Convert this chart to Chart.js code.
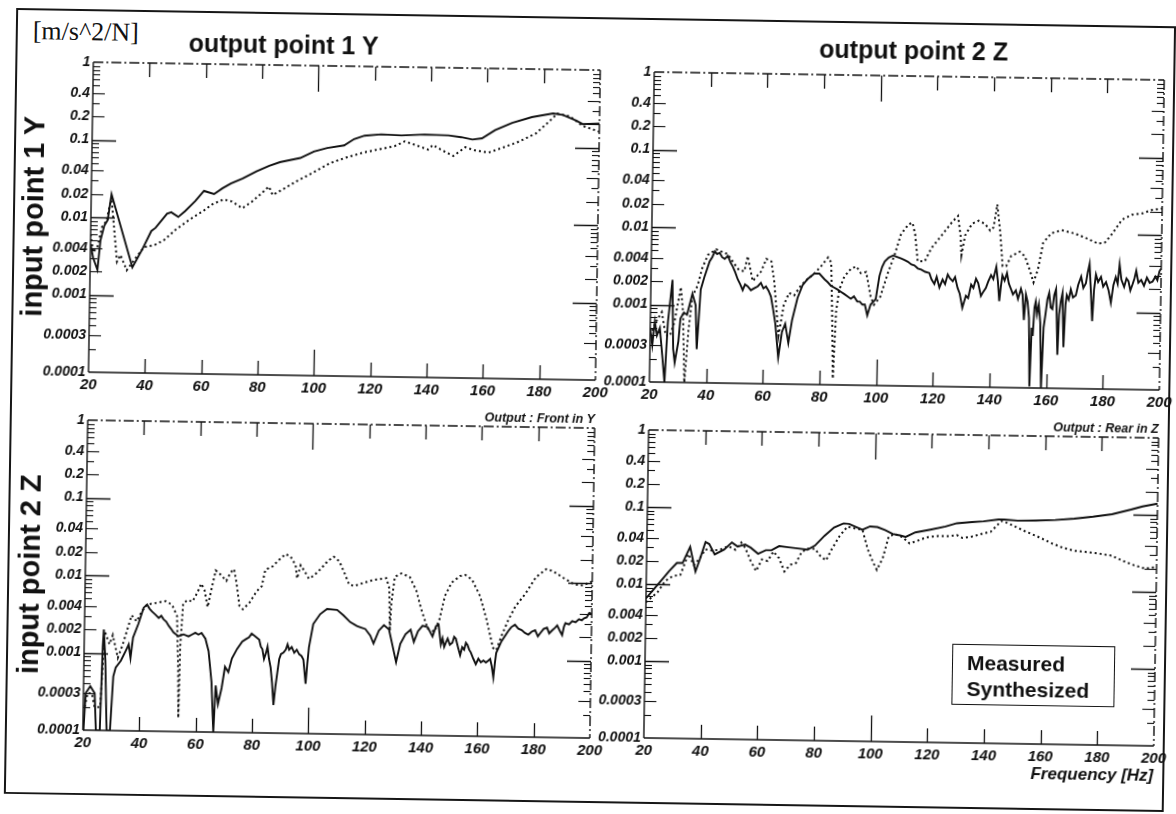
<!DOCTYPE html>
<html>
<head>
<meta charset="utf-8">
<title>Transfer functions: measured vs synthesized</title>
<script src="https://cdn.jsdelivr.net/npm/chart.js@4.4.1/dist/chart.umd.min.js"></script>
<style>
  html, body { margin: 0; padding: 0; background: #fff; }
  #sheet { position: relative; width: 1176px; height: 814px; overflow: hidden; background: #fff; }
  #page { position: absolute; left: 0; top: 0; width: 1176px; height: 814px;
          transform: rotate(0.9deg); transform-origin: 588px 407px; }
  .frame { position: absolute; left: 10px; top: 17px; width: 1160px; height: 786px;
           box-sizing: border-box; border: 2.5px solid #161616; }
  canvas { position: absolute; }
  .txt { position: absolute; white-space: nowrap; color: #111; line-height: 1; }
  .unit { font: 26px "Liberation Serif", "DejaVu Serif", serif; transform: translate(-50%, -50%); }
  .title { font: bold 25px "Liberation Sans", Arial, sans-serif; transform: translate(-50%, -50%); }
  .rowlab { font: bold 29px "Liberation Sans", Arial, sans-serif; transform: translate(-50%, -50%) rotate(-90deg); }
  .outlab { font: italic bold 12.5px "Liberation Sans", Arial, sans-serif; transform: translate(-100%, -100%); }
  .xlab { font: italic bold 17px "Liberation Sans", Arial, sans-serif; transform: translate(-100%, -50%); }
  .legend { position: absolute; box-sizing: border-box; border: 1.6px solid #111; background: #fff;
            font: bold 21px "Liberation Sans", Arial, sans-serif; color: #111;
            padding: 5px 0 0 14px; line-height: 26px; }
</style>
</head>
<body>
<div id="sheet"><div id="page"><div class="frame"></div></div></div>
<script>
// ---- axis ticks ----
const freqTicks = [20, 40, 60, 80, 100, 120, 140, 160, 180, 200];
const magTicks = [0.0001, 0.0003, 0.001, 0.002, 0.004, 0.01, 0.02, 0.04, 0.1, 0.2, 0.4, 1];
const magTickLabels = ['0.0001', '0.0003', '0.001', '0.002', '0.004', '0.01', '0.02', '0.04', '0.1', '0.2', '0.4', '1'];

// ---- captions ----
const unitLabel = '[m/s^2/N]';
const outputTitles = ['output point 1 Y', 'output point 2 Z'];
const inputTitles = ['input point 1 Y', 'input point 2 Z'];
const outputNotes = ['Output : Front in Y', 'Output : Rear in Z'];
const freqAxisTitle = 'Frequency [Hz]';
const seriesNames = ['Measured', 'Synthesized'];

// ---- input 1 Y -> output 1 Y  [Hz, m/s^2/N] ----
const in1Out1Measured = [
  [20, 0.0045], [21, 0.003], [22.6, 0.0021], [23.5, 0.005], [24.8, 0.0078], [26, 0.0093], [27.2, 0.020],
  [35, 0.0023], [38.5, 0.004], [41.5, 0.0068], [43, 0.0075], [47, 0.0115], [48.5, 0.012], [51, 0.0105],
  [53.4, 0.0125], [57, 0.017], [60, 0.023], [63.6, 0.021], [66.5, 0.025], [69.5, 0.029], [73.7, 0.034],
  [78.5, 0.042], [83, 0.050], [86.8, 0.056], [94, 0.064], [98.8, 0.078], [103.5, 0.087], [109.5, 0.095],
  [113, 0.115], [116.7, 0.128], [122.6, 0.134], [129.8, 0.131], [138, 0.136], [146.5, 0.134], [151, 0.128],
  [155, 0.12], [158.4, 0.125], [163, 0.16], [169, 0.20], [176, 0.24], [183.5, 0.27], [187, 0.26],
  [191.8, 0.22], [194, 0.20], [200, 0.205]
];
const in1Out1Synth = [
  [20, 0.006], [21, 0.0035], [22.5, 0.0042], [24, 0.0075], [25.5, 0.009], [27.2, 0.018], [29.5, 0.0027],
  [30.7, 0.0033], [33, 0.0021], [36, 0.003], [39, 0.0042], [42.7, 0.0045], [46, 0.0052], [50, 0.0071],
  [54.6, 0.0095], [60, 0.0128], [63, 0.0155], [67, 0.018], [70, 0.017], [73.7, 0.014], [77, 0.017],
  [81, 0.023], [83, 0.027], [84.4, 0.021], [88, 0.025], [92.8, 0.032], [98.8, 0.042], [104.7, 0.056],
  [110.7, 0.067], [116.7, 0.078], [122.6, 0.087], [127.4, 0.095], [131, 0.11], [134.5, 0.10], [139.3, 0.087],
  [141, 0.10], [144, 0.087], [148.3, 0.073], [152.5, 0.095], [156, 0.087], [160.8, 0.082], [165.6, 0.095],
  [171.5, 0.115], [177.5, 0.148], [182, 0.21], [185, 0.27], [189.5, 0.25], [194, 0.19], [200, 0.16]
];

// ---- input 1 Y -> output 2 Z ----
const in1Out2Measured = [
  [20, 0.0005], [20.8, 0.0003], [21.6, 0.0006], [22.4, 0.0004], [23.4, 0.0005], [24.5, 0.0002], [25.3, 0.0001],
  [26.2, 0.0006], [27.6, 0.0021], [28.2, 0.00027], [28.8, 0.00018], [30, 0.00034], [30.6, 0.00067], [31.8, 0.0008],
  [32.9, 0.00075], [34.7, 0.0014], [35.9, 0.001], [36.5, 0.00027], [37.6, 0.0016], [38.8, 0.0023], [40.6, 0.0037],
  [41.5, 0.0042], [42.4, 0.005], [43.2, 0.0046], [44.1, 0.0048], [45, 0.0042], [45.9, 0.004], [47, 0.0044],
  [48, 0.0036], [48.8, 0.0032], [49.7, 0.0027], [50.6, 0.0022], [51.5, 0.0019], [52.4, 0.0016], [53.2, 0.0019],
  [54.1, 0.0018], [55.3, 0.0016], [56.5, 0.0017], [57.7, 0.0018], [58.8, 0.002], [59.7, 0.0017], [60.6, 0.0018],
  [61.5, 0.0016], [62.4, 0.00134], [63.3, 0.0009], [64.1, 0.0006], [65.3, 0.00022], [66.5, 0.00047], [67.6, 0.0006],
  [68.8, 0.00034], [70, 0.00067], [71.8, 0.0013], [73.5, 0.0019], [75.3, 0.0023], [76.5, 0.0025], [77.6, 0.0027],
  [79.4, 0.0027], [81.2, 0.0023], [82.4, 0.0021], [83.5, 0.0019], [84.7, 0.0018], [85.9, 0.0017], [87, 0.0016],
  [88.2, 0.0015], [89.4, 0.0014], [90.6, 0.0013], [91.7, 0.0014], [92.9, 0.0012], [93.8, 0.0012], [94.7, 0.0011],
  [95.6, 0.0011], [96.5, 0.0008], [97.6, 0.0011], [99.4, 0.0013], [100.6, 0.0026], [101.5, 0.0034], [102.4, 0.004],
  [103.8, 0.0045], [105.3, 0.0048], [106.7, 0.0046], [108.2, 0.0044], [109.4, 0.0042], [110.6, 0.004], [111.8, 0.0037],
  [112.9, 0.0036], [114.1, 0.0033], [115.3, 0.0032], [116.7, 0.003], [118.2, 0.0029], [119, 0.0024], [120, 0.0021],
  [120.8, 0.0026], [121.8, 0.0019], [122.9, 0.0024], [123.8, 0.0021], [124.7, 0.0028], [125.5, 0.0025], [126.5, 0.0023],
  [127.3, 0.0026], [128.2, 0.0019], [129, 0.0016], [130, 0.00105], [131.2, 0.0015], [132, 0.0014], [133, 0.0021],
  [133.8, 0.0019], [134.7, 0.0025], [135.5, 0.0022], [136.5, 0.0015], [137.3, 0.0017], [138.2, 0.0019], [139, 0.0023],
  [140, 0.0028], [140.8, 0.0025], [141.8, 0.0036], [142.4, 0.0024], [143, 0.0013], [143.5, 0.002], [144, 0.0028],
  [144.8, 0.0024], [145.6, 0.003], [146.3, 0.0022], [147, 0.0019], [147.8, 0.0016], [148.8, 0.0018], [149.6, 0.0014],
  [150.6, 0.0019], [151.2, 0.0016], [151.8, 0.00075], [152.4, 0.0016], [153, 0.0013], [153.6, 0.0008], [154.1, 0.000105],
  [154.6, 0.0006], [155, 0.00047], [155.5, 0.0011], [155.9, 0.0013], [156.4, 0.0009], [157, 0.0012], [157.6, 0.0007],
  [158.2, 0.0001], [158.8, 0.0006], [159.4, 0.0009], [160, 0.0014], [160.6, 0.0017], [161.2, 0.0011], [161.8, 0.00105],
  [162.4, 0.0016], [163, 0.0019], [163.4, 0.0008], [163.8, 0.00027], [164.2, 0.0009], [164.7, 0.0013], [165.3, 0.0017],
  [165.9, 0.00034], [166.4, 0.0012], [166.8, 0.0016], [167.5, 0.0014], [168.2, 0.0019], [169, 0.0015], [170, 0.0016],
  [170.8, 0.0022], [171.8, 0.0028], [172.6, 0.002], [173.5, 0.0023], [174.1, 0.0032], [174.7, 0.0041], [175.3, 0.0018],
  [175.9, 0.00075], [176.4, 0.0019], [177, 0.003], [177.8, 0.0024], [178.8, 0.0028], [179.6, 0.0021], [180.6, 0.0024],
  [181.5, 0.0019], [182.4, 0.0013], [183.2, 0.0022], [184, 0.0028], [184.7, 0.0023], [185.3, 0.0041], [186, 0.0026],
  [187, 0.0021], [187.8, 0.0027], [188.5, 0.0025], [189.2, 0.0019], [190, 0.0023], [190.6, 0.0027], [191.2, 0.0034],
  [192, 0.0024], [193, 0.0026], [194, 0.0022], [195, 0.0028], [196, 0.0024], [197, 0.0025], [198, 0.0029],
  [198.7, 0.0026], [199.4, 0.0034], [200, 0.0037]
];
const in1Out2Synth = [
  [20, 0.0004], [22, 0.0006], [24, 0.0008], [25.5, 0.0004], [27, 0.0004], [28.5, 0.0006], [30.6, 0.0017],
  [31.5, 0.0008], [32.3, 0.0001], [33.5, 0.00047], [34.7, 0.0013], [36.5, 0.0018], [38, 0.003], [40, 0.0045],
  [42.9, 0.0053], [47, 0.0046], [49, 0.0036], [51, 0.0029], [52.9, 0.0028], [54, 0.0044], [55.9, 0.0021],
  [58.8, 0.0028], [60.6, 0.0041], [62.4, 0.0038], [63.5, 0.0021], [65.3, 0.00042], [67, 0.00105], [68.8, 0.0015],
  [70.6, 0.0014], [73, 0.0019], [75.3, 0.0023], [77.6, 0.0027], [80, 0.0034], [82.4, 0.0044], [83.5, 0.0038],
  [84.1, 0.00085], [84.7, 0.00012], [85.5, 0.0009], [86.5, 0.0017], [88.2, 0.0025], [90.6, 0.0032], [92.4, 0.0034],
  [94, 0.0028], [95.9, 0.0029], [97.6, 0.0014], [98.8, 0.0011], [101, 0.0014], [103.5, 0.0028], [105.9, 0.005],
  [108, 0.0091], [110.6, 0.0122], [112, 0.0128], [113, 0.009], [114, 0.0041], [116.5, 0.0041], [118.8, 0.0061],
  [122.4, 0.009], [126, 0.0134], [128, 0.016], [129, 0.009], [129.4, 0.005], [130.6, 0.009], [133, 0.0128],
  [135.3, 0.014], [137.6, 0.0128], [139.4, 0.0105], [140.6, 0.0116], [141.8, 0.023], [143, 0.01], [144, 0.0037],
  [145.3, 0.0037], [147, 0.005], [150, 0.0057], [151.8, 0.005], [153.5, 0.0034], [155, 0.0023], [156.5, 0.0034],
  [158.2, 0.0075], [161, 0.01], [164.7, 0.011], [169.4, 0.01], [174, 0.0086], [177.6, 0.0075], [180, 0.0078],
  [182.4, 0.01], [185.9, 0.0155], [189.4, 0.018], [193, 0.0188], [196.5, 0.021], [200, 0.022]
];

// ---- input 2 Z -> output 1 Y ----
const in2Out1Measured = [
  [20.2, 0.0001], [20.8, 0.0003], [22.4, 0.00037], [24, 0.0003], [24.6, 0.0001], [26, 0.0001], [26.6, 0.0012],
  [26.9, 0.002], [27.6, 0.0008], [28.4, 0.0001], [29.6, 0.0001], [30.5, 0.0005], [31.3, 0.00065], [33.1, 0.0008],
  [34.9, 0.0011], [35.8, 0.0013], [36.5, 0.00087], [37.3, 0.0016], [39.1, 0.0024], [40.9, 0.0039], [42.1, 0.0043],
  [43, 0.0038], [43.9, 0.0035], [45.1, 0.0032], [46.3, 0.0029], [47.2, 0.0031], [48, 0.0028], [49, 0.0026],
  [49.9, 0.0023], [50.8, 0.0021], [51.6, 0.0019], [52.5, 0.0018], [53.4, 0.0017], [55.2, 0.0018], [57, 0.0017],
  [58.2, 0.0018], [59.4, 0.0019], [60.5, 0.0018], [61.6, 0.0019], [63, 0.0016], [64.2, 0.0011], [65.4, 0.00044],
  [66.3, 0.0001], [66.9, 0.0004], [67.8, 0.00023], [69, 0.00037], [70.1, 0.0007], [71.3, 0.0006], [72.5, 0.0009],
  [74.3, 0.0012], [76.1, 0.0015], [77.3, 0.0016], [78.5, 0.0017], [79.4, 0.0019], [80.3, 0.0018], [81.2, 0.0017],
  [82.1, 0.0016], [82.7, 0.0013], [83.3, 0.0012], [83.9, 0.0009], [84.5, 0.00105], [85.1, 0.0013], [85.7, 0.0009],
  [86.3, 0.0007], [86.9, 0.00044], [87.5, 0.00023], [88.1, 0.0004], [88.7, 0.0006], [89.3, 0.0009], [89.9, 0.00105],
  [90.8, 0.0011], [91.6, 0.0012], [92.2, 0.0014], [92.8, 0.0012], [93.7, 0.0013], [94.6, 0.0011], [95.5, 0.0012],
  [96.4, 0.00105], [97.2, 0.001], [97.9, 0.0009], [98.4, 0.0006], [98.8, 0.00044], [99.3, 0.0008], [99.8, 0.0013],
  [101.2, 0.0026], [103.6, 0.0035], [106, 0.0041], [109.6, 0.004], [111.9, 0.0034], [114.3, 0.0028], [116.7, 0.0025],
  [118.2, 0.0024], [119.7, 0.0023], [121.5, 0.0019], [122.7, 0.0015], [124.5, 0.0022], [126.3, 0.0026], [128.1, 0.0023],
  [129.3, 0.0015], [130.8, 0.00087], [132.2, 0.0015], [134, 0.002], [135.8, 0.0023], [137, 0.0016], [138.4, 0.0022],
  [140, 0.0026], [141.8, 0.0025], [143.6, 0.0019], [144.8, 0.0026], [145.7, 0.0027], [146.6, 0.0015], [147.2, 0.0018],
  [147.8, 0.0014], [148.4, 0.0016], [149, 0.0018], [149.8, 0.0015], [150.7, 0.0016], [151.3, 0.0019], [151.9, 0.0018],
  [152.7, 0.0014], [153.5, 0.0011], [154.2, 0.0014], [154.9, 0.0013], [155.5, 0.0016], [156.1, 0.0015], [156.7, 0.0013],
  [157.3, 0.0012], [158.2, 0.001], [159.1, 0.00085], [160, 0.001], [160.9, 0.0009], [161.8, 0.00095], [162.7, 0.0009],
  [163.5, 0.00095], [164.2, 0.001], [164.8, 0.0008], [165.4, 0.00058], [165.9, 0.0009], [166.3, 0.0012], [168.1, 0.0017],
  [170.4, 0.0023], [171.5, 0.0026], [172.8, 0.0028], [174, 0.0025], [175.2, 0.0024], [176.4, 0.0022], [177.6, 0.0021],
  [178.8, 0.0023], [180, 0.0024], [181, 0.002], [181.8, 0.0022], [183, 0.0025], [184.2, 0.0026], [185, 0.0022],
  [186, 0.0024], [187, 0.0026], [187.8, 0.0028], [188.7, 0.0024], [189.6, 0.0021], [190.2, 0.0027], [190.7, 0.003],
  [192, 0.0029], [193.1, 0.0032], [194.3, 0.0031], [195.5, 0.0034], [196.5, 0.0033], [197.3, 0.0035], [198.2, 0.0036],
  [199.1, 0.0041], [200, 0.004]
];
const in2Out1Synth = [
  [20.5, 0.0002], [21.5, 0.0003], [23, 0.0003], [24, 0.0002], [26, 0.0002], [26.8, 0.0008], [27.2, 0.0019],
  [29, 0.0013], [30.1, 0.0017], [32, 0.00087], [33.7, 0.0013], [35.5, 0.0022], [36.7, 0.0031], [38.5, 0.0026],
  [40.3, 0.0035], [42.1, 0.0043], [45, 0.0045], [48.7, 0.0048], [51, 0.0043], [52.8, 0.0031], [53.5, 0.0006],
  [53.8, 0.00015], [54.1, 0.00125], [54.9, 0.0045], [56.4, 0.005], [58.2, 0.0048], [60, 0.0064], [61.2, 0.0082],
  [62.4, 0.0068], [63.6, 0.0041], [64.8, 0.0068], [66.3, 0.0122], [67.8, 0.011], [70.1, 0.009], [71.6, 0.0116],
  [72.8, 0.0128], [73.7, 0.0086], [74.9, 0.0043], [76.1, 0.0039], [78.5, 0.0048], [80.9, 0.0067], [82.7, 0.0078],
  [83.9, 0.0128], [86.3, 0.014], [88.7, 0.0172], [91, 0.0205], [92.8, 0.019], [94.6, 0.0148], [95.2, 0.01],
  [96.4, 0.0148], [97.6, 0.0128], [99.4, 0.01], [101.2, 0.011], [103.6, 0.0135], [106, 0.017], [108.1, 0.0194],
  [110.1, 0.017], [112, 0.012], [113.7, 0.0086], [115.5, 0.0082], [119.1, 0.0091], [122.7, 0.01], [126.9, 0.0105],
  [128, 0.0078], [128.4, 0.0022], [128.8, 0.005], [129.9, 0.011], [132.2, 0.0122], [135.2, 0.011], [137.6, 0.0074],
  [139.4, 0.0043], [141.8, 0.0024], [144.2, 0.0022], [146, 0.0032], [147.8, 0.0064], [150.1, 0.0095], [153.1, 0.0116],
  [154.9, 0.012], [157.3, 0.0105], [160.3, 0.0064], [162.7, 0.0032], [165.1, 0.0014], [166.3, 0.0013], [168.1, 0.002],
  [170.4, 0.0032], [172.8, 0.0048], [176.4, 0.0071], [180, 0.0116], [183.6, 0.0148], [186, 0.014], [189.6, 0.0116],
  [193.7, 0.0095], [196.7, 0.0093], [200, 0.0105]
];

// ---- input 2 Z -> output 2 Z ----
const in2Out2Measured = [
  [20, 0.0065], [24.7, 0.0105], [28, 0.0148], [30.7, 0.019], [32.7, 0.019], [35.3, 0.031], [37.3, 0.0148],
  [38.7, 0.021], [40.7, 0.036], [42, 0.034], [44, 0.025], [47.3, 0.029], [50, 0.036], [52, 0.032], [54.7, 0.034],
  [56.7, 0.031], [59.3, 0.026], [62, 0.029], [64, 0.029], [66.7, 0.033], [70, 0.032], [73.3, 0.031], [76.7, 0.03],
  [79.3, 0.034], [82.7, 0.046], [86, 0.059], [89.3, 0.067], [91.3, 0.066], [94, 0.06], [96, 0.056], [98.7, 0.062],
  [101.3, 0.061], [104, 0.056], [106.7, 0.05], [109.3, 0.048], [111.3, 0.046], [114.7, 0.053], [120, 0.058],
  [125.3, 0.064], [129.3, 0.071], [134.7, 0.074], [138.7, 0.076], [144, 0.081], [146, 0.081], [150.7, 0.079],
  [157.3, 0.08], [164, 0.082], [170.7, 0.086], [177.3, 0.092], [184, 0.1], [190.7, 0.116], [194.7, 0.128], [200, 0.14]
];
const in2Out2Synth = [
  [20, 0.0058], [24, 0.0078], [26.7, 0.011], [29.3, 0.0128], [32, 0.0133], [34.7, 0.025], [36.7, 0.018],
  [38.7, 0.022], [40.7, 0.029], [43.3, 0.028], [46, 0.029], [48.7, 0.032], [51.3, 0.029], [53.3, 0.036],
  [54.7, 0.031], [56.7, 0.021], [58.7, 0.0155], [60.7, 0.022], [62.7, 0.021], [64.7, 0.028], [66.7, 0.023],
  [68.7, 0.0155], [70.7, 0.019], [72.7, 0.02], [74.7, 0.028], [76.7, 0.031], [79.3, 0.031], [81.3, 0.025],
  [83.3, 0.022], [85.3, 0.031], [88, 0.046], [90.7, 0.061], [93.3, 0.058], [96, 0.056], [98, 0.031], [100, 0.021],
  [101.3, 0.017], [103.3, 0.024], [105.3, 0.046], [107.3, 0.05], [110, 0.046], [112.7, 0.038], [115.3, 0.041],
  [118.7, 0.046], [122.7, 0.048], [126.7, 0.048], [129.3, 0.05], [131.3, 0.046], [134.7, 0.048], [138.7, 0.053],
  [141.3, 0.056], [144, 0.071], [145.3, 0.078], [148, 0.071], [153.3, 0.058], [158.7, 0.048], [162.7, 0.041],
  [166.7, 0.036], [170.7, 0.033], [174.7, 0.032], [178.7, 0.031], [184, 0.029], [188, 0.025], [192, 0.022],
  [196, 0.02], [200, 0.021]
];

// ---------------------------------------------------------------------------
const INK = '#111';
const yTickFont = { family: '"Liberation Sans", Arial, sans-serif', size: 14, style: 'italic', weight: 'bold' };
const xTickFont = { family: '"Liberation Sans", Arial, sans-serif', size: 15, style: 'italic', weight: 'bold' };

// plot-area placement of each panel on the sheet
const panels = [
  { box: { left: 88,  top: 70,  width: 507, height: 310 }, meas: in1Out1Measured, syn: in1Out1Synth },
  { box: { left: 649, top: 71,  width: 510, height: 310 }, meas: in1Out2Measured, syn: in1Out2Synth },
  { box: { left: 88,  top: 428, width: 507, height: 310 }, meas: in2Out1Measured, syn: in2Out1Synth },
  { box: { left: 649, top: 429, width: 510, height: 308 }, meas: in2Out2Measured, syn: in2Out2Synth }
];
const Y_AXIS_W = 80, X_AXIS_H = 30, PAD_TOP = 14, PAD_RIGHT = 22;

function seg(ctx, x1, y1, x2, y2) {
  ctx.beginPath(); ctx.moveTo(x1, y1); ctx.lineTo(x2, y2); ctx.stroke();
}

// Plot frame with inward tick marks on all four sides
const axisFrame = {
  id: 'axisFrame',
  afterDatasetsDraw(chart) {
    const { ctx, chartArea: a, scales: { x, y } } = chart;
    ctx.save();
    ctx.strokeStyle = INK;
    ctx.lineWidth = 1.4;
    seg(ctx, a.left, a.top, a.left, a.bottom);
    seg(ctx, a.left, a.bottom, a.right, a.bottom);
    ctx.setLineDash([10, 3, 2, 3]);
    seg(ctx, a.left, a.top, a.right, a.top);
    seg(ctx, a.right, a.top, a.right, a.bottom);
    ctx.setLineDash([]);
    ctx.lineWidth = 1.3;
    x.ticks.forEach(t => {
      if (t.value <= x.min || t.value >= x.max) return;
      const px = Math.round(x.getPixelForValue(t.value)) + 0.5;
      const len = t.value === 100 ? 26 : 14;
      seg(ctx, px, a.bottom, px, a.bottom - len);
      seg(ctx, px, a.top, px, a.top + len);
    });
    const isLabelled = v => y.ticks.some(t => Math.abs(t.value - v) < v * 1e-6);
    for (let e = -4; e < 0; e++) {
      const dec = Math.pow(10, e);
      for (let k = 1; k <= 9; k++) {
        const v = k * dec;
        if (v <= y.min * 1.0001 || v >= y.max * 0.9999) continue;
        const py = Math.round(y.getPixelForValue(v)) + 0.5;
        const len = k === 1 ? 24 : (isLabelled(v) ? 12 : 7);
        ctx.lineWidth = k === 1 ? 1.5 : 1.1;
        seg(ctx, a.left, py, a.left + len, py);
        seg(ctx, a.right, py, a.right - len, py);
      }
    }
    ctx.restore();
  }
};

const page = document.getElementById('page');

function addText(cls, text, left, top) {
  const el = document.createElement('div');
  el.className = 'txt ' + cls;
  el.textContent = text;
  el.style.left = left + 'px';
  el.style.top = top + 'px';
  page.appendChild(el);
  return el;
}

panels.forEach((p) => {
  const b = p.box;
  const cv = document.createElement('canvas');
  cv.width = b.width + Y_AXIS_W + PAD_RIGHT;
  cv.height = b.height + PAD_TOP + X_AXIS_H;
  cv.style.left = (b.left - Y_AXIS_W) + 'px';
  cv.style.top = (b.top - PAD_TOP) + 'px';
  page.appendChild(cv);

  new Chart(cv.getContext('2d'), {
    type: 'line',
    data: {
      datasets: [
        { label: seriesNames[0], data: p.meas.map(([f, m]) => ({ x: f, y: m })),
          borderColor: INK, borderWidth: 1.9, pointRadius: 0, tension: 0, fill: false },
        { label: seriesNames[1], data: p.syn.map(([f, m]) => ({ x: f, y: m })),
          borderColor: INK, borderWidth: 2, borderDash: [2, 3], pointRadius: 0, tension: 0, fill: false }
      ]
    },
    options: {
      responsive: false,
      animation: false,
      events: [],
      layout: { padding: { top: PAD_TOP, right: PAD_RIGHT, left: 0, bottom: 0 } },
      plugins: { legend: { display: false }, tooltip: { enabled: false }, title: { display: false } },
      scales: {
        x: {
          type: 'linear', min: 20, max: 200,
          afterBuildTicks: s => { s.ticks = freqTicks.map(v => ({ value: v })); },
          afterFit: s => { s.height = X_AXIS_H; s.paddingLeft = 0; s.paddingRight = 0; },
          ticks: { font: xTickFont, color: INK, padding: 4, maxRotation: 0, autoSkip: false,
                   callback: v => String(v) },
          grid: { display: false, drawTicks: false },
          border: { display: false }
        },
        y: {
          type: 'logarithmic', min: 0.0001, max: 1,
          afterBuildTicks: s => { s.ticks = magTicks.map(v => ({ value: v })); },
          afterFit: s => { s.width = Y_AXIS_W; s.paddingTop = 0; s.paddingBottom = 0; },
          ticks: { font: yTickFont, color: INK, padding: 3, autoSkip: false,
                   callback: (v, idx) => magTickLabels[idx] },
          grid: { display: false, drawTicks: false },
          border: { display: false }
        }
      }
    },
    plugins: [axisFrame]
  });
});

// captions around the panels
const [tl, tr, bl, br] = panels.map(p => p.box);
addText('unit', unitLabel, 80, 40);
addText('title', outputTitles[0], 278, 49);
addText('title', outputTitles[1], 908, 45);
addText('rowlab', inputTitles[0], 30, tl.top + tl.height / 2);
addText('rowlab', inputTitles[1], 32, bl.top + bl.height / 2);
addText('outlab', outputNotes[0], bl.left + bl.width, bl.top - 2);
addText('outlab', outputNotes[1], br.left + br.width, br.top - 2);
addText('xlab', freqAxisTitle, br.left + br.width, br.top + br.height + 30);

// legend box
const lg = document.createElement('div');
lg.className = 'legend';
lg.style.left = '956px'; lg.style.top = '638px';
lg.style.width = '163px'; lg.style.height = '61px';
lg.innerHTML = seriesNames.map(n => '<div>' + n + '</div>').join('');
page.appendChild(lg);
</script>
</body>
</html>
